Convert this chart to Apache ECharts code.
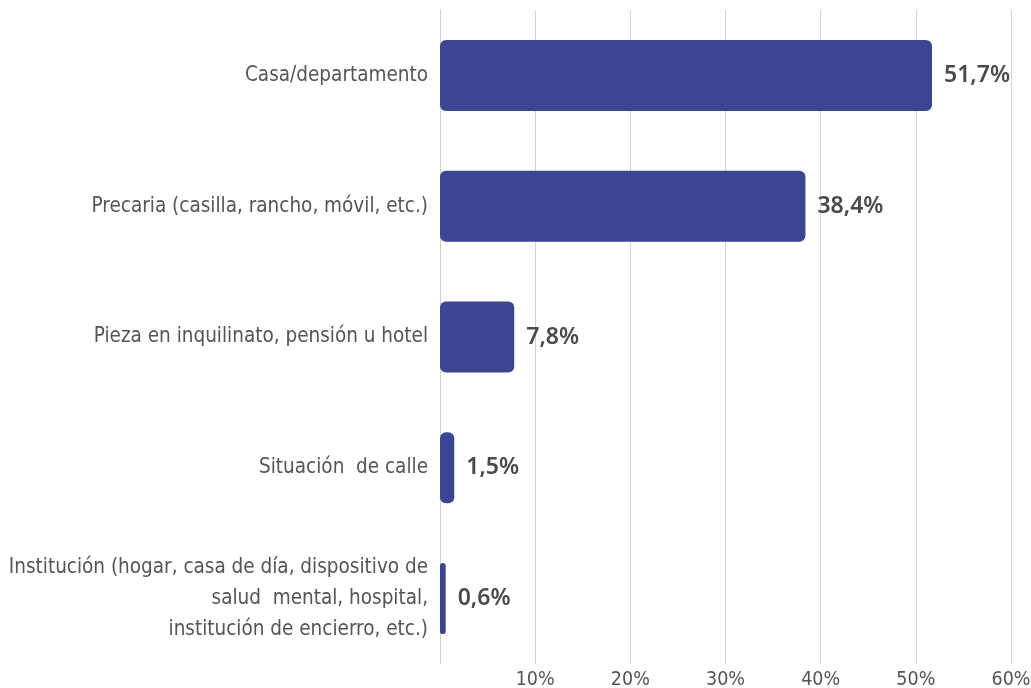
<!DOCTYPE html>
<html>
<head>
<meta charset="utf-8">
<script src="https://cdn.jsdelivr.net/npm/echarts@6/dist/echarts.min.js"></script>
<style>
  html, body { margin: 0; padding: 0; background: #fff; }
  #chart { width: 1031px; height: 688px; }
</style>
</head>
<body>
<div id="chart"></div>
<script>
// categories from top to bottom
const categories = [
  'Casa/departamento',
  'Precaria (casilla, rancho, móvil, etc.)',
  'Pieza en inquilinato, pensión u hotel',
  'Situación  de calle',
  'Institución (hogar, casa de día, dispositivo de\nsalud  mental, hospital,\ninstitución de encierro, etc.)'
]
const percentages = [51.7, 38.4, 7.8, 1.5, 0.6]
const xTicks = [0, 10, 20, 30, 40, 50, 60]

const fontFamily = '"Liberation Sans Narrow", "DejaVu Sans Condensed", "Noto Sans", sans-serif'

const myChart = echarts.init(document.getElementById('chart'))
myChart.setOption({
  animation: false,
  grid: {
    left: 440,
    right: 20,
    top: 10,
    bottom: 24,
    outerBoundsMode: 'none'
  },
  xAxis: {
    type: 'value',
    min: xTicks[0],
    max: xTicks[xTicks.length - 1],
    interval: 10,
    axisLine: { show: false },
    axisTick: { show: false },
    axisLabel: {
      color: '#555555',
      fontSize: 19.5,
      fontFamily: fontFamily,
      margin: 6,
      formatter: v => (v === 0 ? '' : v + '%')
    },
    splitLine: {
      show: true,
      lineStyle: { color: '#d2d2d2', width: 1 }
    }
  },
  yAxis: {
    type: 'category',
    data: categories,
    inverse: true,
    axisLine: { show: true, lineStyle: { color: '#cfcfcf', width: 1 } },
    axisTick: { show: false },
    axisLabel: {
      color: '#555555',
      fontSize: 20.5,
      fontFamily: fontFamily,
      lineHeight: 31,
      margin: 12,
      align: 'right'
    }
  },
  series: [
    {
      type: 'bar',
      data: percentages,
      barWidth: 71,
      itemStyle: {
        color: '#3d4593',
        borderRadius: 6
      },
      label: {
        show: true,
        position: 'right',
        distance: 12,
        color: '#4a4a4c',
        fontSize: 23,
        fontWeight: 600,
        fontFamily: '"Noto Sans", "Open Sans", sans-serif',
        formatter: p => String(p.value).replace('.', ',') + '%'
      }
    }
  ]
})
</script>
</body>
</html>
